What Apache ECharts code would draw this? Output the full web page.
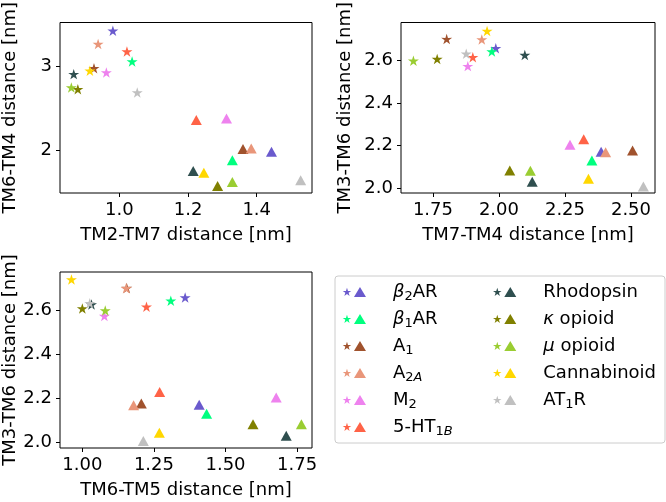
<!DOCTYPE html>
<html>
<head>
<meta charset="utf-8">
<script src="https://cdn.jsdelivr.net/npm/echarts@6/dist/echarts.min.js"></script>
<style>
html,body{margin:0;padding:0;background:#fff;}
#c{width:666px;height:502px;}
</style>
</head>
<body>
<div id="c"></div>
<script>
// ---- data ----
const receptors = ['β2AR','β1AR','A1','A2A','M2','5-HT1B','Rhodopsin','κ opioid','μ opioid','Cannabinoid','AT1R'];
const colors = ['#6a5acd','#00ff7f','#a0522d','#e9967a','#ee82ee','#ff6347','#2f4f4f','#808000','#9acd32','#ffd700','#c0c0c0'];

// star = inactive, triangle = active (values in nm)
const tm2tm7Star = [0.981, 1.037, 0.926, 0.938, 0.962, 1.022, 0.867, 0.879, 0.860, 0.914, 1.052];
const tm2tm7Tri  = [1.443, 1.329, 1.360, 1.384, 1.312, 1.224, 1.215, 1.286, 1.329, 1.246, 1.528];
const tm6tm4Star = [3.43, 3.06, 2.98, 3.27, 2.93, 3.18, 2.91, 2.73, 2.75, 2.95, 2.69];
const tm6tm4Tri  = [1.98, 1.88, 2.015, 2.02, 2.38, 2.36, 1.75, 1.57, 1.62, 1.73, 1.64];
const tm7tm4Star = [1.988, 1.973, 1.802, 1.935, 1.882, 1.901, 2.098, 1.766, 1.676, 1.955, 1.876];
const tm7tm4Tri  = [2.387, 2.352, 2.506, 2.404, 2.269, 2.321, 2.126, 2.041, 2.119, 2.339, 2.547];
const tm3tm6Star = [2.657, 2.642, 2.700, 2.698, 2.573, 2.615, 2.625, 2.607, 2.598, 2.738, 2.631];
const tm3tm6Tri  = [2.171, 2.130, 2.177, 2.169, 2.204, 2.229, 2.030, 2.083, 2.082, 2.044, 2.007];
const tm6tm5Star = [1.359, 1.309, 1.155, 1.153, 1.077, 1.224, 1.032, 1.000, 1.080, 0.962, 1.026];
const tm6tm5Tri  = [1.408, 1.434, 1.206, 1.179, 1.677, 1.270, 1.712, 1.596, 1.765, 1.269, 1.213];

const xTicks = [[1.0, 1.2, 1.4], [1.75, 2.0, 2.25, 2.5], [1.0, 1.25, 1.5, 1.75]];
const xTickLabels = [['1.0','1.2','1.4'], ['1.75','2.00','2.25','2.50'], ['1.00','1.25','1.50','1.75']];
const yTicks = [[2, 3], [2.0, 2.2, 2.4, 2.6], [2.0, 2.2, 2.4, 2.6]];
const yTickLabels = [['2','3'], ['2.0','2.2','2.4','2.6'], ['2.0','2.2','2.4','2.6']];
const xNames = ['TM2-TM7 distance [nm]', 'TM7-TM4 distance [nm]', 'TM6-TM5 distance [nm]'];
const yNames = ['TM6-TM4 distance [nm]', 'TM3-TM6 distance [nm]', 'TM3-TM6 distance [nm]'];

const legendRichText = {
  'β2AR': '{it|β}{sub|2}{n|AR}',
  'β1AR': '{it|β}{sub|1}{n|AR}',
  'A1': '{n|A}{sub|1}',
  'A2A': '{n|A}{sub|2}{subit|A}',
  'M2': '{n|M}{sub|2}',
  '5-HT1B': '{n|5-HT}{sub|1}{subit|B}',
  'Rhodopsin': '{n|Rhodopsin}',
  'κ opioid': '{it|κ}{n| opioid}',
  'μ opioid': '{it|μ}{n| opioid}',
  'Cannabinoid': '{n|Cannabinoid}',
  'AT1R': '{n|AT}{sub|1}{n|R}'
};

// ---- chart ----
const FONT = 'DejaVu Sans';
const STAR = 'path://M50,0L61.17,34.63L97.55,34.55L68.07,55.87L79.39,90.45L50,69L20.61,90.45L31.93,55.87L2.45,34.55L38.83,34.63Z';
const LEG_ICON = 'path://M45,13L55.11,44.09L87.8,44.1L61.36,63.31L71.45,94.41L45,75.2L18.55,94.41L28.64,63.31L2.2,44.1L34.89,44.09ZM175,5L235,105L115,105Z';

const grids = [
  {left: 59, top: 17, width: 253, height: 176},
  {left: 401, top: 17, width: 254, height: 176},
  {left: 59, top: 272, width: 253, height: 176}
];
const xRanges = [[0.827, 1.561], [1.629, 2.591], [0.922, 1.802]];
const yRanges = [[1.487, 3.528], [1.977, 2.778], [1.975, 2.772]];
const xNameGaps = [33, 33, 33];
const yNameGaps = [41, 47, 41];

function labelFor(ticks, labels) {
  return function (v) {
    for (let i = 0; i < ticks.length; i++) if (Math.abs(ticks[i] - v) < 1e-6) return labels[i];
    return '';
  };
}

const axisCommon = {
  type: 'value', scale: true,
  splitLine: {show: false},
  axisLine: {show: false, onZero: false},
  nameLocation: 'middle',
  nameTextStyle: {fontFamily: FONT, fontSize: 18, color: '#000'}
};

const xAxes = [], yAxes = [];
for (let p = 0; p < 3; p++) {
  xAxes.push(Object.assign({}, axisCommon, {
    gridIndex: p, min: xRanges[p][0], max: xRanges[p][1],
    name: xNames[p], nameGap: xNameGaps[p],
    axisTick: {show: true, length: 4, lineStyle: {color: '#000'}, customValues: xTicks[p]},
    axisLabel: {fontFamily: FONT, fontSize: 18, color: '#000', margin: 8,
      customValues: xTicks[p], formatter: labelFor(xTicks[p], xTickLabels[p])}
  }));
  yAxes.push(Object.assign({}, axisCommon, {
    gridIndex: p, min: yRanges[p][0], max: yRanges[p][1],
    name: yNames[p], nameGap: yNameGaps[p], nameRotate: 90,
    axisTick: {show: true, length: 4, lineStyle: {color: '#000'}, customValues: yTicks[p]},
    axisLabel: {fontFamily: FONT, fontSize: 18, color: '#000', margin: 8,
      customValues: yTicks[p], formatter: labelFor(yTicks[p], yTickLabels[p])}
  }));
}

const plots = [
  [tm2tm7Star, tm6tm4Star, tm2tm7Tri, tm6tm4Tri],
  [tm7tm4Star, tm3tm6Star, tm7tm4Tri, tm3tm6Tri],
  [tm6tm5Star, tm3tm6Star, tm6tm5Tri, tm3tm6Tri]
];

const series = [];
for (let p = 0; p < 3; p++) {
  const [sx, sy, tx, ty] = plots[p];
  for (let i = 0; i < receptors.length; i++) {
    series.push({
      type: 'scatter', name: receptors[i],
      xAxisIndex: p, yAxisIndex: p,
      symbolKeepAspect: true,
      itemStyle: {color: colors[i], opacity: 1},
      emphasis: {disabled: true},
      data: [
        {value: [sx[i], sy[i]], symbol: STAR, symbolSize: 11},
        {value: [tx[i], ty[i]], symbol: 'triangle', symbolSize: [11, 10]}
      ]
    });
  }
}

const richStyles = {
  n: {fontFamily: FONT, fontSize: 18, color: '#000', lineHeight: 22},
  it: {fontFamily: FONT, fontSize: 18, fontStyle: 'italic', color: '#000', lineHeight: 22},
  sub: {fontFamily: FONT, fontSize: 13, color: '#000', lineHeight: 13, verticalAlign: 'bottom'},
  subit: {fontFamily: FONT, fontSize: 13, fontStyle: 'italic', color: '#000', lineHeight: 13, verticalAlign: 'bottom'}
};

const rowY = [292, 319, 346, 373, 400, 427];
const legends = receptors.map(function (name, i) {
  const col = i < 6 ? 0 : 1;
  const row = i < 6 ? i : i - 6;
  return {
    z: 10, padding: 0, selectedMode: false,
    left: col === 0 ? 342.7 : 493,
    top: rowY[row] - 11,
    icon: LEG_ICON, itemWidth: 23.3, itemHeight: 10,
    data: [name],
    formatter: function (n) { return legendRichText[n]; },
    textStyle: {fontFamily: FONT, fontSize: 18, color: '#000', padding: [0, 0, 0, 22], lineHeight: 22, rich: richStyles}
  };
});

const chart = echarts.init(document.getElementById('c'), null, {renderer: 'canvas'});
chart.setOption({
  animation: false,
  backgroundColor: '#fff',
  grid: grids.map(g => Object.assign({show: true, borderColor: '#000', borderWidth: 1, backgroundColor: 'transparent'}, g)),
  xAxis: xAxes,
  yAxis: yAxes,
  legend: legends,
  graphic: [{
    type: 'rect', z: 0,
    shape: {x: 335, y: 276, width: 330, height: 167, r: 3},
    style: {fill: '#fff', stroke: '#cccccc', lineWidth: 1}
  }],
  series: series
});
</script>
</body>
</html>
